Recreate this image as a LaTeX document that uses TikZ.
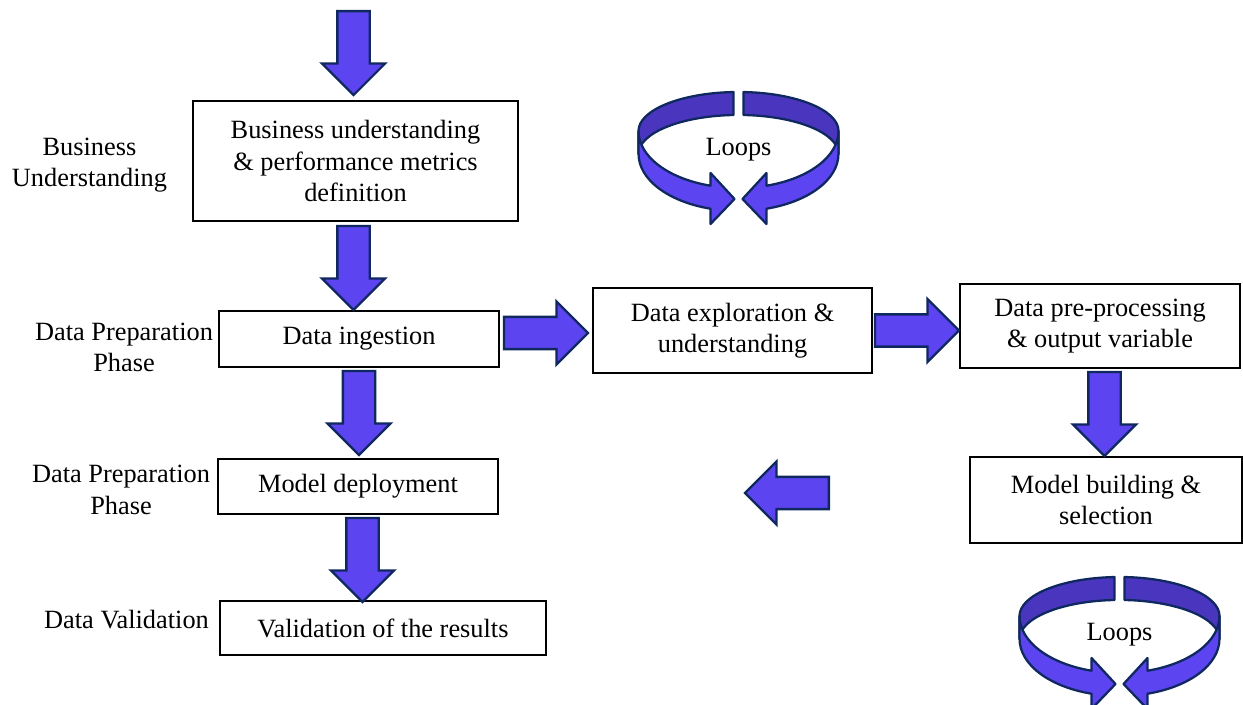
\documentclass[tikz,border=0pt]{standalone}
\usepackage{fontspec}
\setmainfont{Liberation Serif}
\usetikzlibrary{positioning}
\usetikzlibrary{shapes.arrows}
\usetikzlibrary{calc}
\definecolor{ArrowFill}{RGB}{92,68,240}
\definecolor{ArrowBack}{RGB}{74,54,190}
\definecolor{ArrowLine}{RGB}{16,40,96}

\begin{document}
\begin{tikzpicture}[
  x=0.02cm, y=-0.02cm,
  font=\fontsize{15}{17.9}\selectfont,
  stage/.style={draw, line width=1.1pt, align=center, inner sep=2pt},
  phase/.style={align=center},
  blockarr/.style={single arrow, draw=ArrowLine, fill=ArrowFill, line width=1.3pt,
    inner xsep=0pt, inner ysep=0.3cm, single arrow head extend=0.31cm,
    minimum height=1.68cm, anchor=tail},
  ring/.style={draw=ArrowLine, line width=1.3pt, line join=round},
  ]
\clip (0,0) rectangle (1243,705);

% stages
\node [stage, minimum width=6.5cm, minimum height=2.4cm] (biz) at (355.5,161)
  {Business understanding\\\& performance metrics\\definition};
\node [stage, minimum width=5.6cm, minimum height=1.12cm] (ingest) at (359,339) {Data ingestion};
\node [stage, minimum width=5.6cm, minimum height=1.1cm] (deploy) at (358,486.5) {Model deployment};
\node [stage, minimum width=6.52cm, minimum height=1.08cm] (valid) at (383,628) {Validation of the results};
\node [stage, minimum width=5.58cm, minimum height=1.7cm] (explore) at (732.5,330.5)
  {Data exploration \&\\understanding};
\node [stage, minimum width=5.6cm, minimum height=1.68cm] (prep) at (1100,326)
  {Data pre-processing\\\& output variable};
\node [stage, minimum width=5.44cm, minimum height=1.72cm] (build) at (1106,500)
  {Model building \&\\selection};

% phases
\node [phase] (lbiz) at (89.5,165) {Business\\Understanding};
\node [phase] (lprep) at (124,347.5) {Data Preparation\\Phase};
\node [phase] (ldeploy) at (121,490) {Data Preparation\\Phase};
\node [phase] (lvalid) at (126.5,620) {Data Validation};

% block arrows
\coordinate (top) at (353.5,10);
\coordinate (retR) at (830,493);
\node [blockarr, rotate=-90] (a0) at (top) {};
\node [blockarr, rotate=-90] (a1) at ([xshift=-0.04cm, yshift=-0.06cm]biz.south) {};
\node [blockarr, rotate=-90] (a2) at ([yshift=-0.04cm]ingest.south) {};
\node [blockarr, rotate=-90] (a3) at ([xshift=0.09cm, yshift=-0.04cm]deploy.south) {};
\node [blockarr] (a4) at ([xshift=0.06cm, yshift=0.12cm]ingest.east) {};
\node [blockarr] (a5) at ([xshift=0.02cm]explore.east) {};
\node [blockarr, rotate=-90] (a6) at ([xshift=0.09cm, yshift=-0.04cm]prep.south) {};
\node [blockarr, rotate=180] (a7) at (retR) {};

% loops
\foreach \cx/\cy in {738.5/131, 1119.5/616} {
  \foreach \s in {1,-1} {
    \begin{scope}[shift={(\cx,\cy)}, xscale=\s]
      \filldraw [ring, fill=ArrowBack] (-100,0)
        arc [start angle=180, end angle=267.1, x radius=100, y radius=39]
        -- (-5,-16)
        arc [start angle=267.1, end angle=180, x radius=100, y radius=39]
        -- cycle;
      \filldraw [ring, fill=ArrowFill] (-100,0)
        arc [start angle=180, end angle=106.3, x radius=100, y radius=57]
        -- (-28,42) -- (-4,68) -- (-28,93) -- (-28,77.7)
        arc [start angle=106.3, end angle=180, x radius=100, y radius=57]
        -- cycle;
    \end{scope}
  }
}
\node (loopA) at (738.5,150) {Loops};
\node (loopB) at (1119.5,635) {Loops};
\end{tikzpicture}
\end{document}
